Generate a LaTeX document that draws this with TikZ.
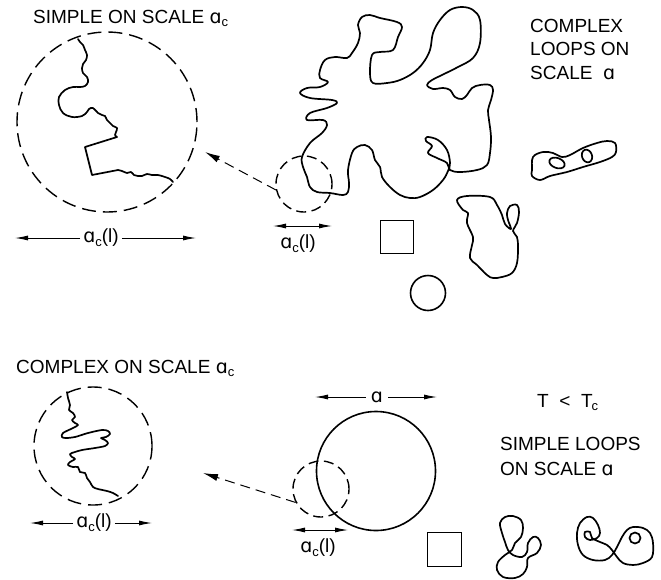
\documentclass[tikz,border=0pt]{standalone}
\usepackage{fontspec}
\setmainfont{Liberation Sans}
\newfontfamily\djv{DejaVu Sans}
\usetikzlibrary{arrows.meta}
\newcommand{\alf}{{\djv ɑ}}
\newcommand{\subc}{\raisebox{-0.35ex}{\fontsize{13pt}{13pt}\selectfont c}}
\newcommand{\ac}{\alf\subc}
\tikzset{
  lbl/.style={font=\fontsize{19pt}{23pt}\selectfont, inner sep=0pt},
  dlbl/.style={font=\fontsize{19pt}{23pt}\selectfont, inner sep=3pt},
  loopline/.style={line width=1.7pt, line join=round, line cap=round},
  dcircbig/.style={draw, circle, inner sep=0pt, line width=1.4pt, dash pattern=on 14pt off 7pt},
  dcircsmall/.style={draw, circle, inner sep=0pt, line width=1.4pt, dash pattern=on 10pt off 5.5pt},
  solidshape/.style={draw, inner sep=0pt, line width=1.6pt},
  dimarrow/.style={-{Latex[length=13pt,width=5pt]}, line width=0.9pt},
  dimboth/.style={{Latex[length=13pt,width=5pt]}-{Latex[length=13pt,width=5pt]}, line width=0.9pt},
  dasharrow/.style={-{Latex[length=15pt,width=7pt]}, line width=1pt, dash pattern=on 10pt off 6pt},
}
\begin{document}
\begin{tikzpicture}[x=1pt,y=-1pt]
\useasboundingbox (0,0) rectangle (661,579);

% ---------- texts ----------
\node[lbl, anchor=base west] (t1) at (33,23) {SIMPLE ON SCALE \ac};
\node[lbl, anchor=base west] (t2a) at (530,32) {COMPLEX};
\node[lbl, anchor=base west] (t2b) at (530,55) {LOOPS ON};
\node[lbl, anchor=base west] (t2c) at (530,79) {SCALE \ \alf};
\node[lbl, anchor=base west] (t3) at (16,373) {COMPLEX ON SCALE \ac};
\node[lbl, anchor=base west] (t4) at (537,407) {T \ < \ T\kern-1pt\subc};
\node[lbl, anchor=base west] (t5a) at (500,450) {SIMPLE LOOPS};
\node[lbl, anchor=base west] (t5b) at (500,475) {ON SCALE \alf};

% ---------- circles and shapes ----------
\node[dcircbig, minimum size=180pt] (bc1) at (107,122) {};
\node[dcircsmall, minimum size=56pt] (sc1) at (304,184) {};
\node[dcircbig, minimum size=118pt] (bc2) at (93,446) {};
\node[solidshape, circle, minimum size=119pt] (big) at (376,471) {};
\node[dcircsmall, minimum size=56pt] (sc2) at (321,489) {};
\node[solidshape, minimum size=33pt] (sq1) at (397,237) {};
\node[solidshape, minimum size=34pt] (sq2) at (444.5,549.5) {};
\node[solidshape, circle, minimum size=35pt] (ci) at (428,293) {};

% ---------- dashed pointer arrows ----------
\coordinate (tip1) at (205,152);
\coordinate (tip2) at (203,473);
\draw[dasharrow] (sc1.192) -- (tip1);
\draw[dasharrow] (sc2.208) -- (tip2);

% ---------- dimension arrows ----------
\node[dlbl] (d1) at (101,238) {\ac(l)};
\coordinate (d1l) at (15,238);
\coordinate (d1r) at (196,238);
\draw[dimarrow] (d1.west) -- (d1l);
\draw[dimarrow] (d1.east) -- (d1r);

\coordinate (m1l) at (273,226);
\coordinate (m1r) at (332,226);
\draw[dimboth] (m1l) -- (m1r);
\node[lbl] (m1) at (298,244) {\ac(l)};

\node[dlbl] (d2) at (94,523) {\ac(l)};
\coordinate (d2l) at (30,523);
\coordinate (d2r) at (152,523);
\draw[dimarrow] (d2.west) -- (d2l);
\draw[dimarrow] (d2.east) -- (d2r);

\coordinate (m2l) at (292,530);
\coordinate (m2r) at (348,530);
\draw[dimboth] (m2l) -- (m2r);
\node[lbl] (m2) at (318,548) {\ac(l)};

\node[dlbl, inner sep=5pt] (d4) at (377,397) {\alf};
\coordinate (d4l) at (315,397);
\coordinate (d4r) at (437,397);
\draw[dimarrow] (d4.west) -- (d4l);
\draw[dimarrow] (d4.east) -- (d4r);

% ---------- curve inside top-left circle ----------
\draw[loopline] plot[smooth, tension=0.6] coordinates {(78,39) (80,42) (83,45) (85,50) (87,55) (86,60) (83,64) (82,68) (83,73) (87,77) (88,82) (85,86) (80,87) (73,87) (65,90) (59,97) (59,105) (63,113) (72,117) (82,116) (87,112) (89,109) (93,108) (98,113) (102,115) (105,116) (107,120) (110,123) (113,126) (117,128) (116,132) (115,135) (117,137)}
  -- (85,147) -- (92,175) --
  plot[smooth, tension=0.6] coordinates {(118,170) (122,171) (127,173) (131,172) (134,175) (138,176) (142,176) (147,174) (152,175) (158,175) (165,177) (170,179) (173,182)};

% ---------- curve inside bottom-left circle ----------
\draw[loopline] plot[smooth, tension=0.55] coordinates {(67,392) (68,398) (70,405) (69,410) (73,413) (75,417) (72,420) (75,423) (78,425) (73,428) (63,433) (62,437) (66,438) (75,437) (88,433) (102,430) (108,431) (110,434) (106,437) (101,438) (105,440) (108,443) (105,446) (95,448) (82,450) (75,452) (70,454) (72,457) (75,459) (70,462) (68,465) (73,467) (78,467) (80,472) (85,473) (87,478) (90,482) (93,487) (98,489) (107,491) (113,493) (118,496)};

% ---------- big complex loop ----------
\draw[loopline] plot[smooth cycle, tension=0.6] coordinates {(413,73) (400,80) (387,83) (373,83) (370,73) (372,55) (380,52) (393,50) (398,37) (402,27) (397,22) (380,18) (370,15) (362,17) (358,25) (360,33) (358,43) (352,53) (347,58) (335,57) (325,60) (320,70) (320,78) (328,82) (320,87) (307,88) (300,93) (310,98) (332,100) (337,103) (327,108) (310,113) (307,120) (323,120) (327,125) (322,133) (310,143) (302,157) (303,167) (307,177) (310,187) (317,192) (330,193) (343,195) (348,192) (349,183) (348,170) (352,153) (357,147) (365,145) (372,150) (375,160) (380,167) (382,177) (390,187) (400,195) (410,198) (420,197) (433,190) (443,180) (448,171) (450,163) (447,150) (438,140) (427,137) (426,141) (432,146) (428,153) (437,158) (447,163) (450,170) (460,172) (477,170) (487,165) (490,153) (491,137) (489,120) (488,110) (491,100) (493,90) (490,85) (480,85) (472,88) (467,95) (462,99) (455,97) (450,90) (443,88) (433,89) (427,85) (432,80) (442,75) (458,67) (473,58) (480,43) (480,20) (473,10) (462,7) (450,10) (440,20) (433,33) (430,50) (423,63)};

% ---------- right-middle loop ----------
\draw[loopline] plot[smooth cycle, tension=0.6] coordinates {(457,200) (467,196) (490,197) (497,205) (502,215) (505,224) (511,229) (508,220) (507,213) (510,206) (517,205) (519,212) (517,223) (513,231) (517,237) (518,247) (517,263) (512,273) (502,277) (493,278) (487,275) (477,265) (470,258) (472,245) (473,237) (467,223) (468,213) (463,210)};

% ---------- top-right small loop ----------
\draw[loopline] plot[smooth cycle, tension=0.6] coordinates {(532,170) (533,157) (543,152) (553,153) (562,157) (570,155) (583,148) (597,143) (607,141) (615,143) (616,152) (612,157) (600,162) (583,167) (567,172) (550,176) (540,180) (532,176)};
\draw[loopline, rotate around={-20:(557,163)}] (557,163) ellipse (8pt and 5pt);
\draw[loopline, rotate around={20:(587,156)}] (587,156) ellipse (5pt and 6.5pt);

% ---------- bottom-right loops ----------
\draw[loopline] plot[smooth cycle, tension=0.6] coordinates {(502,533) (500,523) (505,517) (513,516) (521,520) (523,528) (521,537) (515,543) (512,550) (505,555) (498,562) (497,570) (503,577) (515,578) (523,574) (527,567) (528,558) (537,553) (541,545) (538,538) (533,537) (528,543) (527,552) (522,557) (513,555) (508,550) (505,542)};
\draw[loopline] plot[smooth cycle, tension=0.6] coordinates {(587,517) (593,518) (598,525) (600,533) (597,538) (590,540) (585,537) (585,532) (590,532) (592,538) (600,542) (607,545) (612,550) (617,557) (623,563) (633,565) (643,563) (652,557) (653,543) (650,533) (643,528) (633,527) (627,530) (622,537) (617,547) (612,555) (605,560) (593,560) (583,555) (578,545) (577,533) (580,523)};
\draw[loopline] (635,538) circle (5.5pt);
\end{tikzpicture}
\end{document}
